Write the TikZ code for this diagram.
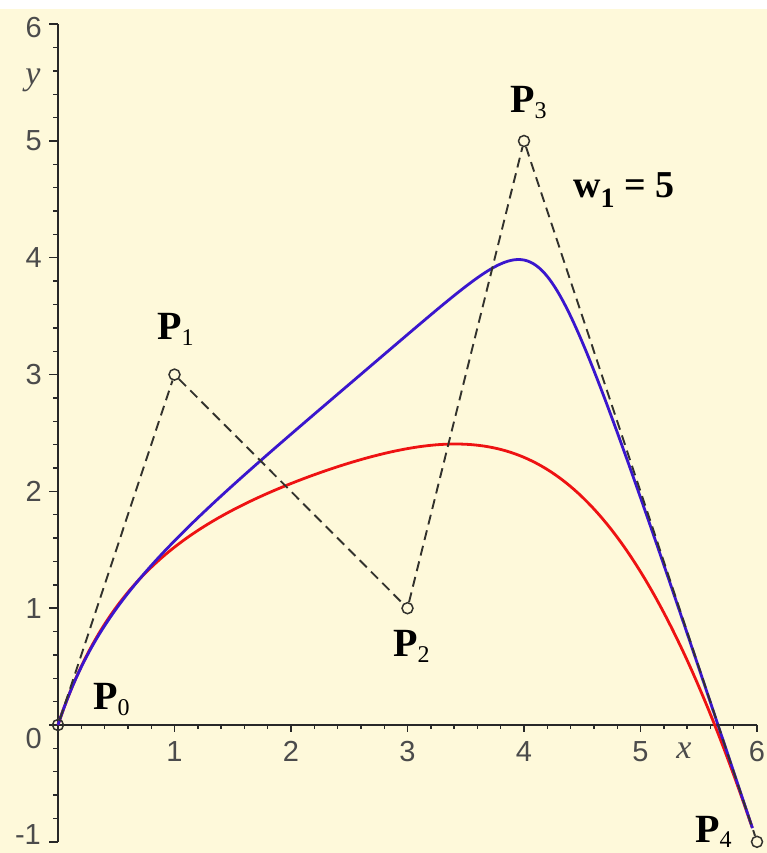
\documentclass[tikz,border=0pt]{standalone}
\usepackage{fontspec}
\setmainfont{Liberation Serif}
\newfontfamily\ticksans{Liberation Sans}
\definecolor{bgy}{RGB}{254,249,218}
\definecolor{curvered}{RGB}{238,18,18}
\definecolor{curveblue}{RGB}{58,22,205}
\definecolor{axisc}{RGB}{40,40,40}
\definecolor{tickc}{RGB}{75,75,75}
\definecolor{polyc}{RGB}{50,50,45}
\begin{document}
\begin{tikzpicture}[x=116.5pt,y=116.8pt,
  declare function={
    bbA(\t)=4*\t*(1-\t)*(1-\t)*(1-\t);
    bbB(\t)=6*\t*\t*(1-\t)*(1-\t);
    bbC(\t)=4*\t*\t*\t*(1-\t);
    bbD(\t)=\t*\t*\t*\t;
  },
  ticklab/.style={font=\ticksans\fontsize{29}{29}\selectfont, text=tickc, inner sep=0pt},
  axislab/.style={font=\fontsize{34}{34}\selectfont\itshape, text=tickc, inner sep=0pt},
  plabel/.style={inner sep=0pt, anchor=base west},
  ctrl/.style={circle, draw=polyc, line width=1.5pt, minimum size=11pt, inner sep=0pt},
  polyline/.style={draw=polyc, line width=1.9pt, dash pattern=on 10pt off 6pt},
  curve/.style={line width=2.8pt, line join=round},
  axisline/.style={draw=axisc, line width=1.8pt},
  tickline/.style={draw=axisc, line width=1.4pt}]
\useasboundingbox (-58pt,-128pt) rectangle (709pt,725pt);
\fill[bgy] (-58pt,-128pt) rectangle (709pt,716pt);
\fill[white] (-58pt,716pt) rectangle (709pt,725pt);

% axes
\draw[axisline] (0,-1) -- (0,6);
\draw[axisline] (0,0) -- (6,0);
\foreach \i in {-5,...,30} \draw[tickline] (0,\i/5) -- ++(-5pt,0);
\foreach \i in {-1,...,6} \draw[tickline] (0,\i) -- ++(-9pt,0);
\foreach \i in {1,...,30} \draw[tickline] (\i/5,0) -- ++(0,-4pt);
\foreach \i in {1,...,6} \draw[tickline] (\i,0) -- ++(0,-7pt);

% tick labels
\node[ticklab, anchor=east] (ly6) at (-16pt,697pt) {6};
\node[ticklab, anchor=east] (ly5) at (-16pt,5) {5};
\node[ticklab, anchor=east] (ly4) at (-16pt,4) {4};
\node[ticklab, anchor=east] (ly3) at (-16pt,3) {3};
\node[ticklab, anchor=east] (ly2) at (-16pt,2) {2};
\node[ticklab, anchor=east] (ly1) at (-16pt,1) {1};
\node[ticklab, anchor=east] (ly0) at (-16pt,-14pt) {0};
\node[ticklab, anchor=east] (lym) at (-17pt,-110pt) {-1};
\node[ticklab, anchor=north] (lx1) at ([yshift=-16pt]1,0) {1};
\node[ticklab, anchor=north] (lx2) at ([yshift=-16pt]2,0) {2};
\node[ticklab, anchor=north] (lx3) at ([yshift=-16pt]3,0) {3};
\node[ticklab, anchor=north] (lx4) at ([yshift=-16pt]4,0) {4};
\node[ticklab, anchor=north] (lx5) at ([yshift=-16pt]5,0) {5};
\node[ticklab, anchor=north] (lx6) at ([yshift=-16pt]6,0) {6};
\node[axislab] (xlab) at (626pt,-26pt) {x};
\node[axislab] (ylab) at (-25pt,645pt) {y};

% curves
\draw[curve, curvered] plot[domain=0:0.995, samples=160, variable=\t]
  ({bbA(\t)+3*bbB(\t)+4*bbC(\t)+6*bbD(\t)},
   {3*bbA(\t)+bbB(\t)+5*bbC(\t)-bbD(\t)});
\draw[curve, curveblue] plot[domain=0:1, samples=200, variable=\t]
  ({(bbA(\t)+3*bbB(\t)+20*bbC(\t)+6*bbD(\t))/(1+4*bbC(\t))},
   {(3*bbA(\t)+bbB(\t)+25*bbC(\t)-bbD(\t))/(1+4*bbC(\t))});

% control polygon
\node[ctrl] (p0) at (0,0) {};
\node[ctrl] (p1) at (1,3) {};
\node[ctrl] (p2) at (3,1) {};
\node[ctrl] (p3) at (4,5) {};
\node[ctrl] (p4) at (6,-1) {};
\draw[polyline] (p0) -- (p1) -- (p2) -- (p3) -- (p4);

% point labels
\node[plabel] (l0) at (35pt,15pt) {\fontsize{40}{40}\selectfont\textbf{P}\raisebox{-6pt}{\fontsize{24}{24}\selectfont 0}};
\node[plabel] (l1) at (99pt,385pt) {\fontsize{40}{40}\selectfont\textbf{P}\raisebox{-6pt}{\fontsize{24}{24}\selectfont 1}};
\node[plabel] (l2) at (335pt,68pt) {\fontsize{40}{40}\selectfont\textbf{P}\raisebox{-6pt}{\fontsize{24}{24}\selectfont 2}};
\node[plabel] (l3) at (452pt,612pt) {\fontsize{40}{40}\selectfont\textbf{P}\raisebox{-6pt}{\fontsize{24}{24}\selectfont 3}};
\node[plabel] (l4) at (637pt,-117pt) {\fontsize{40}{40}\selectfont\textbf{P}\raisebox{-5pt}{\fontsize{24}{24}\selectfont 4}};
\node[plabel] (wl) at (515pt,527pt) {\fontsize{38}{38}\selectfont\bfseries w\raisebox{-10pt}{\fontsize{28}{28}\selectfont 1} = 5};
\end{tikzpicture}
\end{document}
